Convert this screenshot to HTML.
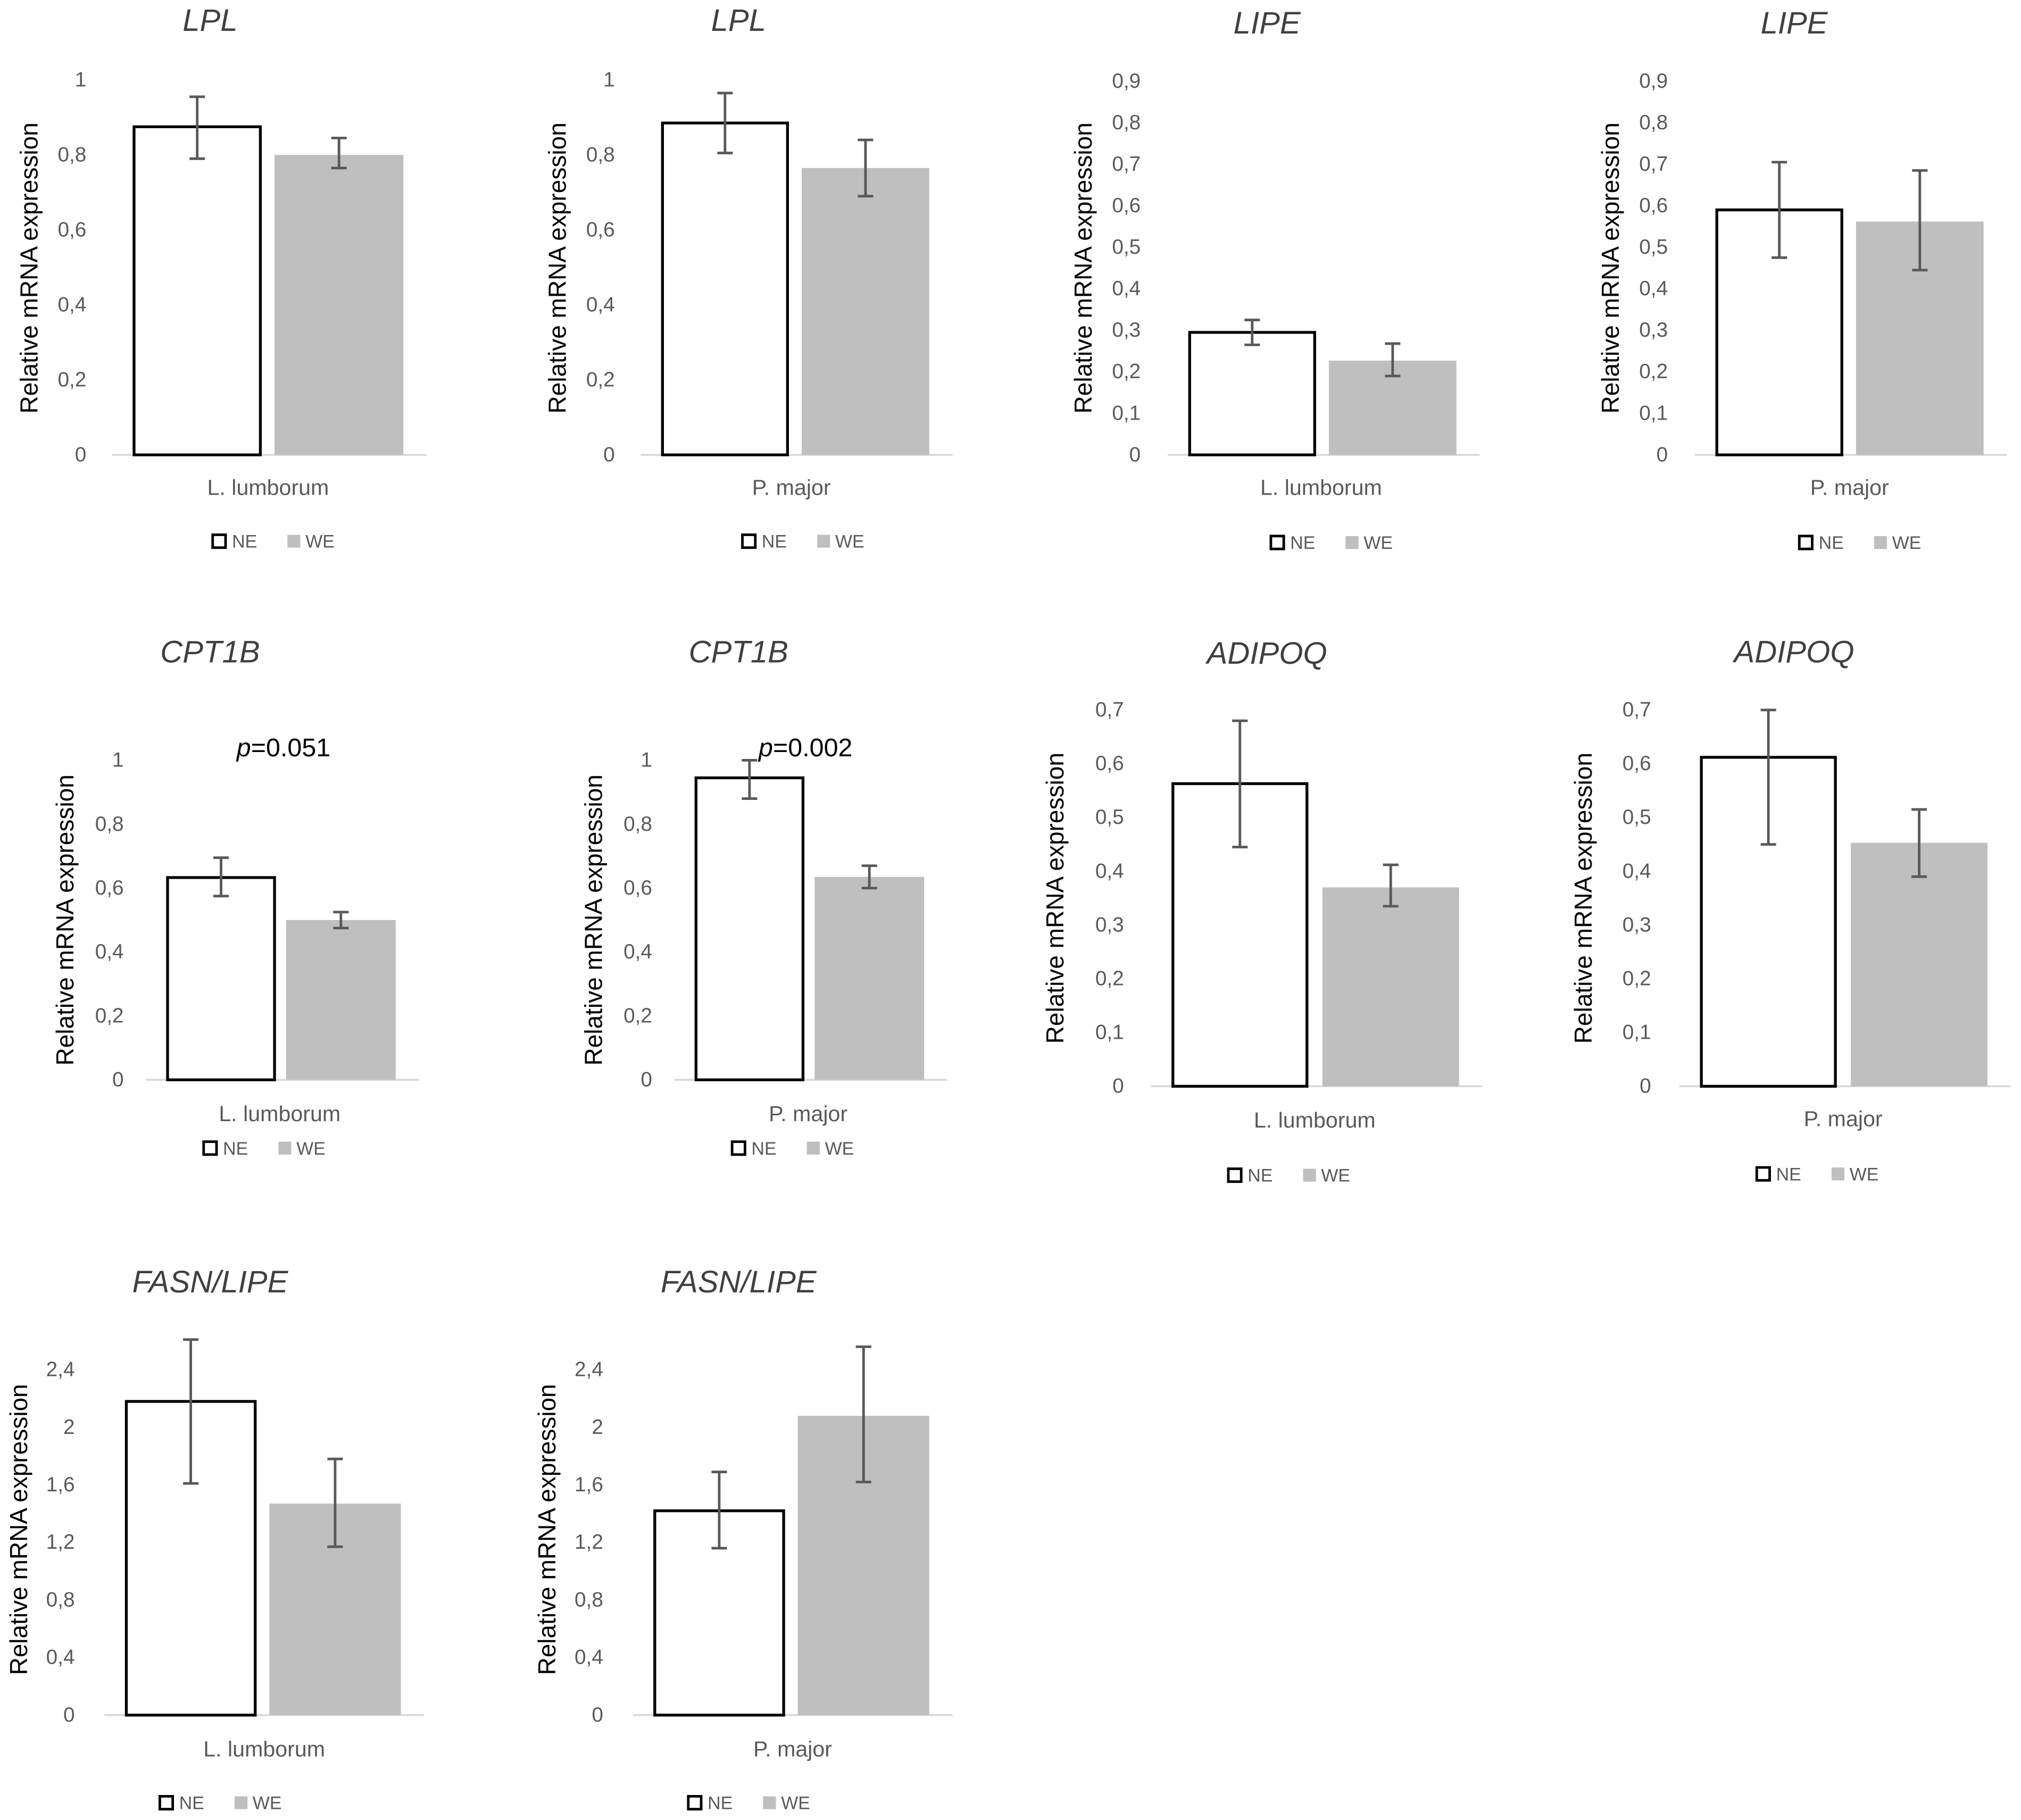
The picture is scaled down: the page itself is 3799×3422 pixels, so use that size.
<!DOCTYPE html>
<html><head><meta charset="utf-8">
<style>
html,body{margin:0;padding:0;background:#fff;}
svg{display:block;}
text{font-family:"Liberation Sans",sans-serif;}
</style></head>
<body>
<svg id="fig" width="3799" height="3422" viewBox="0 0 1568 1412.4" xmlns="http://www.w3.org/2000/svg"></svg>
<script>
// ---- data ----
const titles = ["LPL","LPL","LIPE","LIPE","CPT1B","CPT1B","ADIPOQ","ADIPOQ","FASN/LIPE","FASN/LIPE"];
const categories = ["L. lumborum","P. major","L. lumborum","P. major","L. lumborum","P. major","L. lumborum","P. major","L. lumborum","P. major"];
const neValues = [0.875,0.885,0.295,0.59,0.633,0.945,0.563,0.612,2.18,1.42];
const weValues = [0.80,0.765,0.227,0.562,0.50,0.635,0.37,0.453,1.47,2.08];
const neErrLow = [0.79,0.805,0.265,0.475,0.575,0.88,0.445,0.45,1.61,1.16];
const neErrHigh = [0.955,0.965,0.325,0.705,0.695,1.0,0.68,0.70,2.61,1.69];
const weErrLow = [0.765,0.69,0.19,0.445,0.475,0.60,0.335,0.39,1.17,1.62];
const weErrHigh = [0.845,0.84,0.268,0.685,0.525,0.67,0.412,0.515,1.78,2.56];
const tickSets = [
  ["0","0,2","0,4","0,6","0,8","1"],
  ["0","0,2","0,4","0,6","0,8","1"],
  ["0","0,1","0,2","0,3","0,4","0,5","0,6","0,7","0,8","0,9"],
  ["0","0,1","0,2","0,3","0,4","0,5","0,6","0,7","0,8","0,9"],
  ["0","0,2","0,4","0,6","0,8","1"],
  ["0","0,2","0,4","0,6","0,8","1"],
  ["0","0,1","0,2","0,3","0,4","0,5","0,6","0,7"],
  ["0","0,1","0,2","0,3","0,4","0,5","0,6","0,7"],
  ["0","0,4","0,8","1,2","1,6","2","2,4"],
  ["0","0,4","0,8","1,2","1,6","2","2,4"]
];
const pLabels = ["","","","","0.051","0.002","","","",""];

// ---- layout (not data) ----
const L = [
 {y0:353,yTop:62,bx:103,bw:100,gap:10,tickX:67,ytX:22,ytY:208,titleX:163,titleY:15,catX:208,catY:378,legY:420,legX:165},
 {y0:353,yTop:62,bx:513,bw:99,gap:10,tickX:477,ytX:432,ytY:208,titleX:573,titleY:15,catX:614,catY:378,legY:420,legX:576},
 {y0:353,yTop:63,bx:922,bw:99,gap:10,tickX:885,ytX:840,ytY:208,titleX:983,titleY:17,catX:1025,catY:378,legY:421,legX:986},
 {y0:353,yTop:63,bx:1331,bw:99,gap:10,tickX:1294,ytX:1249,ytY:208,titleX:1392,titleY:17,catX:1435,catY:378,legY:421,legX:1396},
 {y0:838,yTop:590,bx:129,bw:85,gap:8,tickX:96,ytX:50,ytY:714,titleX:163,titleY:505,catX:217,catY:864,legY:891,legX:158,pX:220,pY:580},
 {y0:838,yTop:590,bx:539,bw:85,gap:8,tickX:506,ytX:460,ytY:714,titleX:573,titleY:505,catX:627,catY:864,legY:891,legX:568,pX:625,pY:580},
 {y0:843,yTop:551,bx:909,bw:106,gap:11,tickX:872,ytX:818,ytY:697,titleX:983,titleY:506,catX:1020,catY:869,legY:912,legX:953},
 {y0:843,yTop:551,bx:1319,bw:106,gap:11,tickX:1281,ytX:1228,ytY:697,titleX:1392,titleY:505,catX:1430,catY:868,legY:911,legX:1363},
 {y0:1331,yTop:1063,bx:97,bw:102,gap:10,tickX:58,ytX:14,ytY:1187,titleX:163,titleY:994,catX:205,catY:1357,legY:1399,legX:124},
 {y0:1331,yTop:1063,bx:507,bw:102,gap:10,tickX:468,ytX:424,ytY:1187,titleX:573,titleY:994,catX:615,catY:1357,legY:1399,legX:534}
];
const NS="http://www.w3.org/2000/svg";
const svg=document.getElementById('fig');
function mk(tag,attrs,parent,txt){const e=document.createElementNS(NS,tag);for(const k in attrs)e.setAttribute(k,attrs[k]);if(txt!==undefined)e.textContent=txt;parent.appendChild(e);return e;}

titles.forEach((t,i)=>{
  const c=L[i];
  const ticks=tickSets[i];
  const maxV=parseFloat(ticks[ticks.length-1].replace(',','.'));
  const y=v=>c.y0-(v/maxV)*(c.y0-c.yTop);
  const g=mk('g',{},svg);
  
  
  const tt=mk('text',{x:c.titleX,y:c.titleY+9,'font-size':24,'font-style':'italic','text-anchor':'middle',fill:'#404040'},g,t);
  
  
  ticks.forEach(lab=>{
    const v=parseFloat(lab.replace(',','.'));
    const te=mk('text',{x:c.tickX,y:y(v)+5,'font-size':16,'text-anchor':'end',fill:'#595959'},g,lab);
    
    
  });
  const yt=mk('text',{x:0,y:0,'font-size':19,'text-anchor':'middle',fill:'#000',transform:`translate(${c.ytX+7},${c.ytY}) rotate(-90)`},g,'Relative mRNA expression');
  
  
  const ax=mk('line',{x1:c.bx-16,x2:c.bx+2*c.bw+c.gap+18,y1:c.y0,y2:c.y0,stroke:'#d9d9d9','stroke-width':1.5},g);
  
  
  const nb=mk('rect',{x:c.bx+1,y:y(neValues[i]),width:c.bw-2,height:c.y0-y(neValues[i]),fill:'#fff',stroke:'#000','stroke-width':2.2},g);
  
  
  const wx=c.bx+c.bw+c.gap;
  const wb=mk('rect',{x:wx,y:y(weValues[i]),width:c.bw,height:c.y0-y(weValues[i]),fill:'#bfbfbf'},g);
  
  
  [[c.bx+c.bw/2,neErrLow[i],neErrHigh[i],'error-bar-ne'],[wx+c.bw/2,weErrLow[i],weErrHigh[i],'error-bar-we']].forEach(([cx,lo,hi,nm])=>{
    const eg=mk('g',{stroke:'#595959','stroke-width':2},g);
    
    
    mk('line',{x1:cx,x2:cx,y1:y(lo),y2:y(hi)},eg);
    mk('line',{x1:cx-6,x2:cx+6,y1:y(lo),y2:y(lo)},eg);
    mk('line',{x1:cx-6,x2:cx+6,y1:y(hi),y2:y(hi)},eg);
  });
  const cl=mk('text',{x:c.catX,y:c.catY+6,'font-size':17,'text-anchor':'middle',fill:'#595959'},g,categories[i]);
  
  
  if(pLabels[i]){
    const pt=mk('text',{x:c.pX,y:c.pY+7,'font-size':20,'text-anchor':'middle',fill:'#000'},g);
    
    
    mk('tspan',{'font-style':'italic'},pt,'p');
    mk('tspan',{},pt,'='+pLabels[i]);
  }
  const lg=mk('g',{},g);
  
  
  mk('rect',{x:c.legX,y:c.legY-5,width:10,height:10,fill:'#fff',stroke:'#000','stroke-width':2},lg);
  mk('text',{x:c.legX+15,y:c.legY+5,'font-size':14,fill:'#595959'},lg,'NE');
  mk('rect',{x:c.legX+58,y:c.legY-5,width:10,height:10,fill:'#bfbfbf'},lg);
  mk('text',{x:c.legX+72,y:c.legY+5,'font-size':14,fill:'#595959'},lg,'WE');
});
</script>
</body></html>
